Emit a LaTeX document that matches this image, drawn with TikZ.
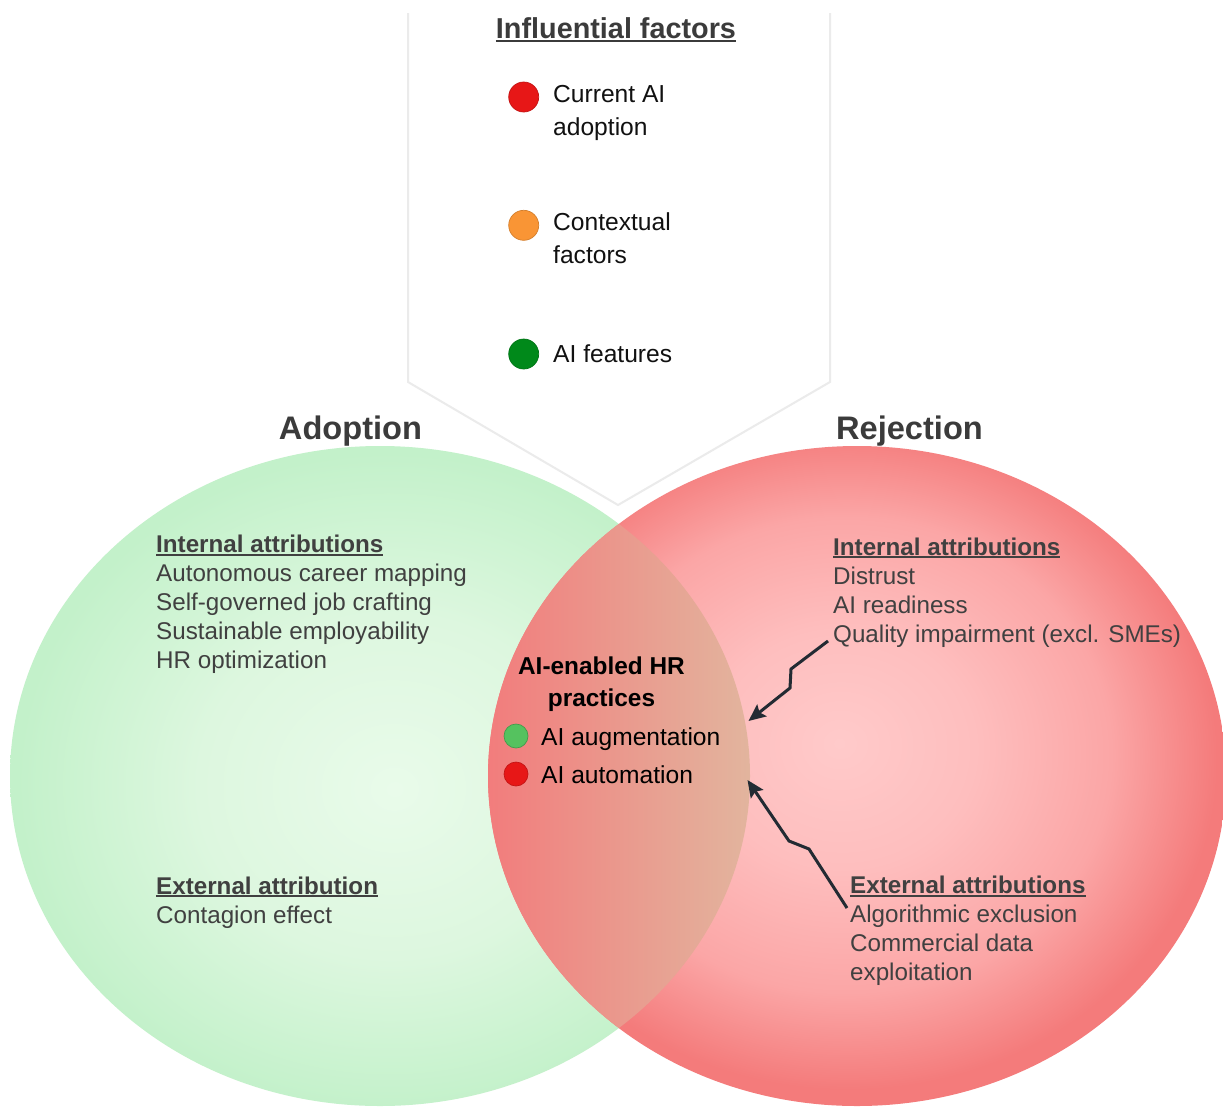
\documentclass[tikz,border=0pt]{standalone}
\usepackage{fontspec}
\setmainfont{Liberation Sans}
\usetikzlibrary{arrows.meta}

% palette
\definecolor{txtgray}{HTML}{404040}
\definecolor{titlegray}{HTML}{3B3B3B}
\definecolor{inkdark}{HTML}{111111}
\definecolor{frameline}{HTML}{EBEBEB}
\definecolor{arrowink}{HTML}{232B33}
\definecolor{gIn}{HTML}{E9FBEA}
\definecolor{gMid}{HTML}{DDF7DF}
\definecolor{gOut}{HTML}{C3F1CA}
\definecolor{rIn}{HTML}{FFCACA}
\definecolor{rMidA}{HTML}{FEBEBE}
\definecolor{rMidB}{HTML}{FBA6A6}
\definecolor{rOut}{HTML}{F47B7B}
\definecolor{lensL}{HTML}{F27C7C}
\definecolor{lensR}{HTML}{E2B59E}
\definecolor{dotRed}{HTML}{E71717}
\definecolor{dotOrange}{HTML}{F99535}
\definecolor{dotGreen}{HTML}{00891A}
\definecolor{dotLight}{HTML}{55C25F}

% soft radial fills for the two sets
\pgfdeclareradialshading{adoptfill}{\pgfpoint{1bp}{-1bp}}{color(0bp)=(gIn); color(13bp)=(gMid); color(25bp)=(gOut); color(50bp)=(gOut)}
\pgfdeclareradialshading{rejectfill}{\pgfpoint{-1.2bp}{2.5bp}}{color(0bp)=(rIn); color(9bp)=(rMidA); color(18bp)=(rMidB); color(25bp)=(rOut); color(50bp)=(rOut)}

% underlined heading
\newcommand\ulhead[3]{\setbox0\hbox{#1}\rlap{\rule[-#2]{\wd0}{#3}}\box0}

\tikzset{
  attr/.style={inner sep=0pt, anchor=base west, text=txtgray,
    font=\fontsize{24.2}{29}\selectfont},
  legendtxt/.style={inner sep=0pt, anchor=base west, text=inkdark,
    font=\fontsize{24.6}{32.8}\selectfont},
  settitle/.style={inner sep=0pt, anchor=base, text=titlegray,
    font=\fontsize{32.6}{38}\selectfont\bfseries},
  bigdot/.style={circle, inner sep=0pt, minimum size=30pt, line width=0.7pt},
  smalldot/.style={circle, inner sep=0pt, minimum size=24pt, line width=0.7pt},
  bolt/.style={draw=arrowink, line width=3pt, line join=miter,
    -{Stealth[length=17pt,width=15pt,inset=3pt]}},
}

\begin{document}
\begin{tikzpicture}[x=1pt,y=-1pt]
  \path[use as bounding box, fill=white] (0,0) rectangle (1223,1106);

  % pointer frame of the factor legend
  \coordinate (f1) at (408,13);
  \coordinate (f2) at (408,382);
  \coordinate (f3) at (618,505);
  \coordinate (f4) at (830,382);
  \coordinate (f5) at (830,13);
  \draw[frameline, line width=2pt, line join=miter] (f1) -- (f2) -- (f3) -- (f4) -- (f5);

  % the two sets
  \coordinate (gc) at (380,776);
  \coordinate (rc) at (857,776);
  \shade[shading=adoptfill] (gc) ellipse [x radius=370pt, y radius=330pt];
  \shade[shading=rejectfill] (rc) ellipse [x radius=369pt, y radius=330pt];
  \begin{scope}
    \clip (gc) ellipse [x radius=370pt, y radius=330pt];
    \clip (rc) ellipse [x radius=369pt, y radius=330pt];
    \shade[left color=lensL, right color=lensR] (486,440) rectangle (752,1110);
  \end{scope}

  % legend
  \node[inner sep=0pt, anchor=base, text=titlegray, font=\fontsize{28.8}{34}\selectfont\bfseries]
    (legtitle) at (616,38.5) {\ulhead{Influential factors}{3.6pt}{2.4pt}};
  \node[bigdot, fill=dotRed, draw=dotRed!85!black] (dcur) at (523.7,97) {};
  \node[bigdot, fill=dotOrange, draw=dotOrange!85!black] (dctx) at (523.7,225.3) {};
  \node[bigdot, fill=dotGreen, draw=dotGreen!85!black] (dfeat) at (523.7,354) {};
  \node[legendtxt] (lcur) at (553,102.7) {\begin{tabular}[t]{@{}l@{}}Current AI\\adoption\end{tabular}};
  \node[legendtxt] (lctx) at (553,230.7) {\begin{tabular}[t]{@{}l@{}}Contextual\\factors\end{tabular}};
  \node[legendtxt] (lfeat) at (553,362.7) {AI features};

  % set titles
  \node[settitle] (adopt) at (350.5,439) {Adoption};
  \node[settitle] (reject) at (909.5,439) {Rejection};

  % adoption side
  \node[attr] (lint) at (156,552.5) {\begin{tabular}[t]{@{}l@{}}
      \ulhead{\bfseries Internal attributions}{3.2pt}{2pt}\\
      Autonomous career mapping\\
      Self-governed job crafting\\
      Sustainable employability\\
      HR optimization\end{tabular}};
  \node[attr] (lext) at (156,894) {\begin{tabular}[t]{@{}l@{}}
      \ulhead{\bfseries External attribution}{3.2pt}{2pt}\\
      Contagion effect\end{tabular}};

  % rejection side
  \node[attr] (rint) at (833,555) {\ulhead{\bfseries Internal attributions}{3.2pt}{2pt}};
  \node[attr] (rdis) at (833,584) {Distrust};
  \node[attr] (rready) at (833,613) {AI readiness};
  \node[attr] (rqual) at (833,642) {Quality impairment (excl. SMEs)};
  \node[attr] (rext) at (850,893.5) {\ulhead{\bfseries External attributions}{3.2pt}{2pt}};
  \node[attr] (ralg) at (850,922.5) {Algorithmic exclusion};
  \node[attr] (rcom) at (850,951.5) {\begin{tabular}[t]{@{}l@{}}Commercial data\\exploitation\end{tabular}};

  % intersection
  \node[inner sep=0pt, anchor=base, text=black, font=\fontsize{24.4}{32.4}\selectfont\bfseries]
    (hr) at (601.5,674.3) {\begin{tabular}[t]{@{}c@{}}AI-enabled HR\\practices\end{tabular}};
  \node[smalldot, fill=dotLight, draw=dotLight!80!black] (daug) at (516,736) {};
  \node[smalldot, fill=dotRed, draw=dotRed!85!black] (daut) at (516,774) {};
  \node[legendtxt, text=black] (taug) at (541,745.3) {AI augmentation};
  \node[legendtxt, text=black] (taut) at (541,783.3) {AI automation};

  % lightning connectors into the intersection
  \coordinate (b1s) at (828,641);
  \coordinate (b1a) at (791,669);
  \coordinate (b1b) at (790,688);
  \coordinate (b1e) at (748.5,721);
  \draw[bolt] (b1s) -- (b1a) -- (b1b) -- (b1e);

  \coordinate (b2s) at (847,908);
  \coordinate (b2a) at (809,849);
  \coordinate (b2b) at (789,841);
  \coordinate (b2e) at (747.5,780);
  \draw[bolt] (b2s) -- (b2a) -- (b2b) -- (b2e);
\end{tikzpicture}
\end{document}
